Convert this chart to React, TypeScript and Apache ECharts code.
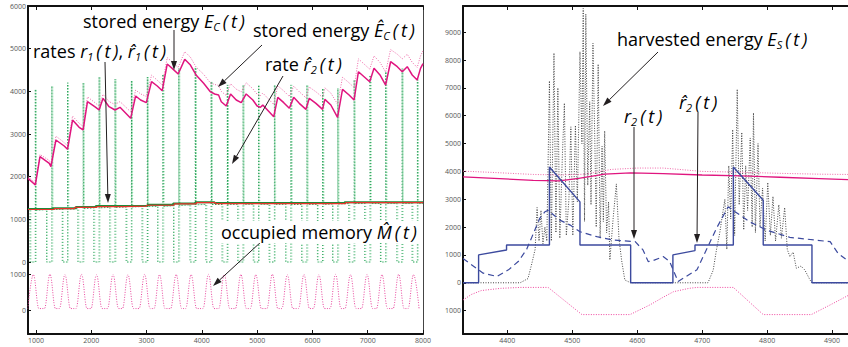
import React, { useEffect, useRef } from 'react';
import * as echarts from 'echarts';

// ---------------- Left panel data ----------------
const storedEnergy: [number, number][] = [
  [855, 1960], [988, 1805], [1072, 2468], [1240, 2313], [1270, 2234], [1360, 2859], [1510, 2719], [1570, 2641],
  [1661, 3328], [1780, 3157], [1852, 3094], [1931, 3757], [2081, 3625], [2141, 3563], [2213, 3836], [2321, 3640],
  [2429, 3563], [2519, 3625], [2712, 3368], [2802, 3890], [2892, 3797], [2995, 3734], [3090, 4226], [3193, 4125],
  [3283, 4015], [3373, 4640], [3463, 4539], [3571, 4406], [3690, 4750], [3793, 4617], [3895, 4383], [4032, 4188],
  [4153, 3992], [4231, 3938], [4302, 3914], [4351, 3757], [4441, 3656], [4519, 3938], [4622, 3797], [4712, 3734],
  [4802, 3938], [4922, 3797], [5000, 3656], [5060, 3625], [5102, 3680], [5300, 3406], [5373, 3859], [5481, 3734],
  [5582, 3602], [5661, 3859], [5762, 3719], [5883, 3578], [5943, 3836], [6063, 3719], [6183, 3578], [6225, 3812],
  [6333, 3680], [6454, 3391], [6544, 4047], [6663, 3914], [6753, 3797], [6832, 4460], [6934, 4343], [7036, 4226],
  [7114, 4539], [7222, 4383], [7324, 4148], [7414, 4694], [7535, 4577], [7625, 4460], [7715, 4577], [7805, 4383],
  [7895, 4265], [7955, 4539], [8000, 4650],
];
const storedEnergyEst: [number, number][] = [
  [855, 2000], [988, 1850], [1072, 2520], [1240, 2380], [1270, 2300], [1360, 2950], [1510, 2800], [1570, 2720],
  [1661, 3420], [1780, 3250], [1852, 3180], [1931, 3870], [2081, 3720], [2141, 3650], [2213, 3930], [2321, 3760],
  [2429, 3690], [2519, 3760], [2712, 3520], [2802, 4030], [2892, 3940], [2995, 3880], [3090, 4380], [3193, 4260],
  [3283, 4150], [3373, 4790], [3463, 4690], [3571, 4560], [3690, 4930], [3793, 4800], [3895, 4570], [4032, 4400],
  [4153, 4200], [4231, 4160], [4302, 4140], [4351, 4000], [4441, 3900], [4519, 4180], [4622, 4050], [4712, 3990],
  [4802, 4200], [4922, 4060], [5000, 3930], [5060, 3900], [5102, 3960], [5300, 3690], [5373, 4130], [5481, 4010],
  [5582, 3880], [5661, 4120], [5762, 3990], [5883, 3850], [5943, 4100], [6063, 3990], [6183, 3860], [6225, 4080],
  [6333, 3960], [6454, 3700], [6544, 4330], [6663, 4200], [6753, 4090], [6832, 4760], [6934, 4640], [7036, 4520],
  [7114, 4830], [7222, 4680], [7324, 4450], [7414, 4980], [7535, 4870], [7625, 4760], [7715, 4870], [7805, 4680],
  [7895, 4560], [7955, 4830], [8000, 4950],
];
const rateR1: [number, number][] = [
  [855, 1230], [1330, 1250], [1700, 1280], [2100, 1300], [2600, 1310], [3000, 1330], [3500, 1360], [3900, 1390],
  [4250, 1370], [6600, 1390], [8000, 1390],
];
const rateR1Est: [number, number][] = [
  [855, 1240], [1300, 1260], [1720, 1290], [2080, 1310], [2620, 1320], [3020, 1340], [3480, 1370], [3880, 1400],
  [4230, 1380], [6580, 1400], [8000, 1400],
];
// daily pulses of the estimated rate r^2(t)
const pulseDipX = [892, 1190, 1475, 1757, 2046, 2334, 2630, 2918, 3199, 3487, 3785, 4073, 4365, 4650, 4930, 5217, 5515, 5805, 6090, 6363, 6659, 6947, 7230, 7527, 7803];
const pulseSpikeX = [987, 1285, 1570, 1852, 2141, 2429, 2725, 3013, 3294, 3582, 3880, 4168, 4460, 4745, 5025, 5312, 5610, 5900, 6185, 6458, 6754, 7042, 7325, 7622, 7898];
const pulseTop = [4050, 4125, 4200, 4200, 4340, 4290, 4250, 4340, 4400, 4540, 4560, 4230, 4150, 4150, 4150, 4150, 4150, 4150, 4070, 4070, 4270, 4380, 4460, 4540, 4270];
const pulseLevel = [1210, 1230, 1240, 1250, 1270, 1280, 1290, 1300, 1300, 1320, 1340, 1350, 1350, 1350, 1350, 1350, 1350, 1350, 1350, 1360, 1370, 1370, 1370, 1370, 1370];
const lightDipX = [910, 1208, 1493, 1775, 2064, 2352, 2648, 2936, 3217, 3505, 3803, 4091, 4383, 4668, 4948, 5235, 5533, 5823, 6108, 6381, 6677, 6965, 7248, 7545, 7821];
const lightSpikeX = [1005, 1303, 1588, 1870, 2159, 2447, 2743, 3031, 3312, 3600, 3898, 4186, 4478, 4763, 5043, 5330, 5628, 5918, 6203, 6476, 6772, 7060, 7343, 7640, 7916];
// occupied memory (lower strip)
const memPeakX = [952, 1252, 1523, 1823, 2094, 2393, 2663, 2964, 3234, 3535, 3806, 4120, 4405, 4706, 4976, 5276, 5546, 5847, 6117, 6418, 6688, 6988, 7258, 7559, 7829];
const memPeak = [980, 990, 980, 990, 980, 985, 980, 990, 980, 985, 980, 990, 980, 985, 980, 990, 980, 985, 980, 990, 980, 985, 980, 990, 980];
const memLow = 40;
const memHalfWidth = 100;

// ---------------- Right panel data ----------------
const storedEnergyR: [number, number][] = [
  [4332, 3800], [4380, 3750], [4440, 3680], [4480, 3660], [4510, 3750], [4550, 3900], [4590, 3950], [4640, 3920],
  [4700, 3870], [4760, 3840], [4820, 3790], [4880, 3740], [4926, 3700],
];
const storedEnergyEstR: [number, number][] = [
  [4332, 4010], [4380, 3960], [4440, 3890], [4480, 3870], [4520, 3900], [4560, 4070], [4600, 4120], [4640, 4120],
  [4700, 4000], [4760, 3970], [4820, 3930], [4880, 3900], [4926, 3890],
];
const memoryR: [number, number][] = [
  [4332, -620], [4345, -420], [4360, -280], [4390, -200], [4420, -167], [4463, -167], [4515, -1143], [4589, -1143],
  [4620, -790], [4640, -520], [4656, -320], [4680, -200], [4692, -167], [4748, -167], [4794, -1143], [4868, -1143],
  [4900, -760], [4926, -440],
];
const rateR2: [number, number][] = [
  [4332, 0], [4356, 0], [4356, 1000], [4399, 1179], [4399, 1357], [4465, 1357], [4465, 4155], [4512, 2905],
  [4512, 1357], [4590, 1357], [4590, 0], [4655, 0], [4655, 1000], [4689, 1155], [4689, 1357], [4748, 1357],
  [4748, 4155], [4794, 2964], [4794, 1357], [4869, 1357], [4869, 0], [4926, 0],
];
const rateR2Est: [number, number][] = [
  [4332, 870], [4345, 650], [4363, 345], [4384, 226], [4402, 464], [4417, 762], [4430, 1200], [4450, 2310],
  [4458, 2548], [4463, 2600], [4481, 2250], [4497, 2071], [4512, 1833], [4538, 1655], [4563, 1536], [4597, 1476],
  [4609, 1179], [4617, 762], [4625, 800], [4640, 940], [4650, 762], [4663, 48], [4692, 464], [4722, 1952],
  [4740, 2726], [4773, 2190], [4799, 1893], [4835, 1631], [4897, 1476], [4909, 1060], [4926, 762],
];
const harvested: [number, number][] = [
  [4332, 0], [4420, 0], [4432, 150], [4438, 700], [4443, 1200], [4446, 2700], [4449, 1500], [4452, 2600],
  [4455, 1400], [4458, 2000], [4461, 1500], [4465, 7250], [4468, 1500], [4472, 8250], [4475, 1800], [4478, 7000],
  [4481, 1600], [4485, 4600], [4488, 6450], [4491, 1700], [4495, 3000], [4498, 5600], [4501, 1700], [4505, 5650],
  [4508, 2900], [4512, 8300], [4515, 5000], [4517, 9850], [4519, 2200], [4521, 9650], [4524, 3500], [4527, 6500],
  [4529, 2800], [4532, 8600], [4535, 4900], [4537, 2000], [4540, 7850], [4543, 1600], [4546, 4900], [4548, 2200],
  [4550, 5450], [4553, 1800], [4556, 2900], [4558, 820], [4563, 2300], [4568, 3550], [4572, 1600], [4576, 820],
  [4581, 100], [4590, 0], [4709, 0], [4717, 450], [4722, 1180], [4727, 1780], [4731, 2400], [4735, 3000],
  [4738, 1200], [4741, 4200], [4744, 2300], [4747, 5500], [4750, 1700], [4754, 6950], [4757, 2800], [4761, 5400],
  [4764, 1900], [4767, 4200], [4770, 2600], [4774, 5200], [4777, 2000], [4779, 6100], [4782, 1800], [4786, 5000],
  [4789, 2000], [4793, 3400], [4797, 1500], [4801, 3600], [4805, 1700], [4809, 3100], [4813, 1500], [4818, 2800],
  [4822, 1600], [4827, 2700], [4831, 1200], [4835, 940], [4840, 1100], [4845, 520], [4852, 600], [4858, 460],
  [4866, 100], [4869, 0], [4926, 0],
];

const FONT = '"Open Sans", "Noto Sans", sans-serif';

function buildPulses(dips: number[], spikes: number[], tops: number[], levels: number[]) {
  const pts: [number, number][] = [];
  for (let i = 0; i < spikes.length; i++) {
    pts.push([dips[i], levels[i]], [dips[i], 0], [spikes[i], 0], [spikes[i], tops[i]], [spikes[i] + 6, tops[i]], [spikes[i] + 6, levels[i]]);
  }
  pts.push([8000, levels[levels.length - 1]]);
  return pts;
}
function buildMemory(peaks: number[], highs: number[]) {
  const pts: [number, number][] = [];
  peaks.forEach((p, i) => {
    pts.push([p - memHalfWidth, memLow], [p, highs[i]], [p + memHalfWidth, memLow]);
  });
  return pts;
}

const tickLabel = { color: '#555', fontSize: 7, fontFamily: FONT };
const thousands = (v: number) => (Math.abs(v % 1000) < 1e-6 ? String(Math.abs(v)) : '');
const plain = (v: number) => String(v);

function line(data: any, xi: number, yi: number, color: string, width: number, type: any, z: number, extra: any = {}) {
  return {
    type: 'line', data, xAxisIndex: xi, yAxisIndex: yi, showSymbol: false, symbol: 'none', z,
    lineStyle: { color, width, type }, silent: true, clip: false, ...extra,
  };
}

const rich = {
  n: { fontFamily: FONT, fontSize: 18, color: '#231f20', lineHeight: 22 },
  i: { fontFamily: FONT, fontSize: 18, fontStyle: 'italic', color: '#231f20', lineHeight: 22 },
  s: { fontFamily: FONT, fontSize: 11, fontStyle: 'italic', color: '#231f20', lineHeight: 10, verticalAlign: 'bottom' },
};
const T = '\u2009(\u2009t\u2009)';
const annotations = [
  { x: 83, y: 21, text: `{n|stored energy }{i|E}{s|C}{i|${T}}` },
  { x: 253, y: 30, text: `{n|stored energy }{i|\u00CA}{s|C}{i|${T}}` },
  { x: 33, y: 51, text: `{n|rates }{i|r}{s|1}{i|${T}}{n|, }{i|r\u0302}{s|1}{i|${T}}` },
  { x: 265, y: 64, text: `{n|rate }{i|r\u0302}{s|2}{i|${T}}` },
  { x: 219, y: 232, text: `{n|occupied memory }{i|M\u0302}{i|${T}}`, bg: true },
  { x: 617, y: 39, text: `{n|harvested energy }{i|E}{s|S}{i|${T}}` },
  { x: 624, y: 116, text: `{i|r}{s|2}{i|${T}}` },
  { x: 679, y: 102, text: `{i|r\u0302}{s|2}{i|${T}}` },
];
const arrows = [
  [174, 30, 174, 70], [105, 62, 108, 203], [262, 45, 218, 87], [283, 76, 232, 164], [262, 241, 213, 286],
  [658, 52, 603, 106], [634, 127, 634, 239], [698, 112, 697, 243],
];

function arrowGraphics() {
  const out: any[] = [];
  const L = 9, W = 3;
  arrows.forEach(([x1, y1, x2, y2]) => {
    const dx = x2 - x1, dy = y2 - y1;
    const len = Math.hypot(dx, dy);
    const ux = dx / len, uy = dy / len;
    const bx = x2 - ux * L, by = y2 - uy * L;
    const nx = -uy, ny = ux;
    out.push({ type: 'line', z: 90, shape: { x1, y1, x2: bx, y2: by }, style: { stroke: '#231f20', lineWidth: 1 } });
    out.push({ type: 'polygon', z: 90, shape: { points: [[x2, y2], [bx + nx * W, by + ny * W], [bx - nx * W, by - ny * W]] },
      style: { fill: '#231f20' } });
  });
  return out;
}

export default function App() {
  const ref = useRef<HTMLDivElement>(null);
  useEffect(() => {
    const chart = echarts.init(ref.current!, null, { renderer: 'svg' });
    const frameAxis = { show: true, onZero: false, lineStyle: { color: '#111', width: 2 } };
    const hiddenX = (gi: number, min: number, max: number) => ({ gridIndex: gi, type: 'value', min, max, show: false });
    const option: any = {
      animation: false,
      grid: [
        { left: 28, top: 6, width: 395, height: 328, outerBoundsMode: 'none' },
        { left: 28, top: 6, width: 395, height: 256, outerBoundsMode: 'none' },
        { left: 28, top: 274, width: 395, height: 36, outerBoundsMode: 'none' },
        { left: 463, top: 6, width: 386, height: 328, outerBoundsMode: 'none' },
      ],
      xAxis: [
        { gridIndex: 0, type: 'value', min: 855, max: 8000, position: 'bottom', axisLine: frameAxis,
          axisTick: { show: true, inside: true, length: 4, lineStyle: { color: '#111' } },
          axisLabel: { ...tickLabel, margin: 3, formatter: thousands }, splitLine: { show: false } },
        { gridIndex: 0, type: 'value', min: 855, max: 8000, position: 'top', axisLine: frameAxis,
          axisTick: { show: true, inside: true, length: 4, lineStyle: { color: '#111' } },
          axisLabel: { show: false }, splitLine: { show: false } },
        hiddenX(1, 855, 8000),
        hiddenX(2, 855, 8000),
        { gridIndex: 3, type: 'value', min: 4332, max: 4926, position: 'bottom', axisLine: frameAxis,
          axisTick: { show: true, inside: true, length: 4, lineStyle: { color: '#111' } },
          axisLabel: { ...tickLabel, margin: 3, formatter: (v: number) => (Math.abs(v % 100) < 1e-6 ? String(v) : '') },
          splitLine: { show: false } },
        { gridIndex: 3, type: 'value', min: 4332, max: 4926, position: 'top', axisLine: frameAxis,
          axisTick: { show: true, inside: true, length: 4, lineStyle: { color: '#111' } },
          axisLabel: { show: false }, splitLine: { show: false } },
      ],
      yAxis: [
        { gridIndex: 0, type: 'value', min: 0, max: 1, position: 'left', axisLine: frameAxis,
          axisTick: { show: false }, axisLabel: { show: false }, splitLine: { show: false } },
        { gridIndex: 0, type: 'value', min: 0, max: 1, position: 'right',
          axisLine: { show: true, onZero: false, lineStyle: { color: '#444', width: 1 } },
          axisTick: { show: false }, axisLabel: { show: false }, splitLine: { show: false } },
        { gridIndex: 1, type: 'value', min: 0, max: 6000, interval: 1000, axisLine: { show: false, onZero: false },
          axisTick: { show: true, inside: true, length: 3, lineStyle: { color: '#111' } },
          axisLabel: { ...tickLabel, margin: 2, formatter: plain }, splitLine: { show: false } },
        { gridIndex: 2, type: 'value', min: 0, max: 1000, interval: 1000, axisLine: { show: false, onZero: false },
          axisTick: { show: true, inside: true, length: 3, lineStyle: { color: '#111' } },
          axisLabel: { ...tickLabel, margin: 2, formatter: plain }, splitLine: { show: false } },
        { gridIndex: 3, type: 'value', min: -1840, max: 9940, splitNumber: 12, position: 'left', axisLine: frameAxis,
          axisTick: { show: true, inside: true, length: 3, lineStyle: { color: '#111' } },
          axisLabel: { ...tickLabel, margin: 2, formatter: thousands }, splitLine: { show: false } },
      ],
      series: [
        line(buildPulses(lightDipX, lightSpikeX, pulseTop, pulseLevel), 2, 2, '#8fdcaa', 1, [1, 2], 2),
        line(buildPulses(pulseDipX, pulseSpikeX, pulseTop, pulseLevel), 2, 2, '#1c9a4e', 1, [1, 2], 2),
        line(buildMemory(memPeakX, memPeak), 3, 3, '#ea4aa0', 1, [1, 1.5], 2, { smooth: 0.4, smoothMonotone: 'x' }),
        line(rateR1Est, 2, 2, '#1f8a3a', 2, 'solid', 3, { step: 'end' }),
        line(rateR1, 2, 2, '#e8322a', 1.2, 'solid', 4, { step: 'end' }),
        line(storedEnergyEst, 2, 2, '#f06aaa', 1, [1, 1.5], 5),
        line(storedEnergy, 2, 2, '#e0157f', 1.5, 'solid', 6),
        line(harvested, 4, 4, '#333', 0.9, [1, 1.5], 2),
        line(memoryR, 4, 4, '#f0479f', 1, [1, 1.5], 3),
        line(storedEnergyEstR, 4, 4, '#f06aaa', 1, [1, 1.5], 3),
        line(storedEnergyR, 4, 4, '#e0157f', 1.3, 'solid', 4),
        line(rateR2Est, 4, 4, '#3c4a9e', 1.2, [6, 4], 5),
        line(rateR2, 4, 4, '#3c4a9e', 1.4, 'solid', 6),
      ],
      graphic: [
        ...arrowGraphics(),
        ...annotations.map((a) => ({
          type: 'text', x: a.x, y: a.y, z: 100,
          style: { text: a.text, rich, verticalAlign: 'middle', align: 'left',
            ...(a.bg ? { backgroundColor: '#fff', padding: [0, 2] } : {}) },
        })),
      ],
    };
    chart.setOption(option);
    return () => chart.dispose();
  }, []);
  return <div ref={ref} style={{ position: 'fixed', left: 0, top: 0, width: 848, height: 347, background: '#fff' }} />;
}
